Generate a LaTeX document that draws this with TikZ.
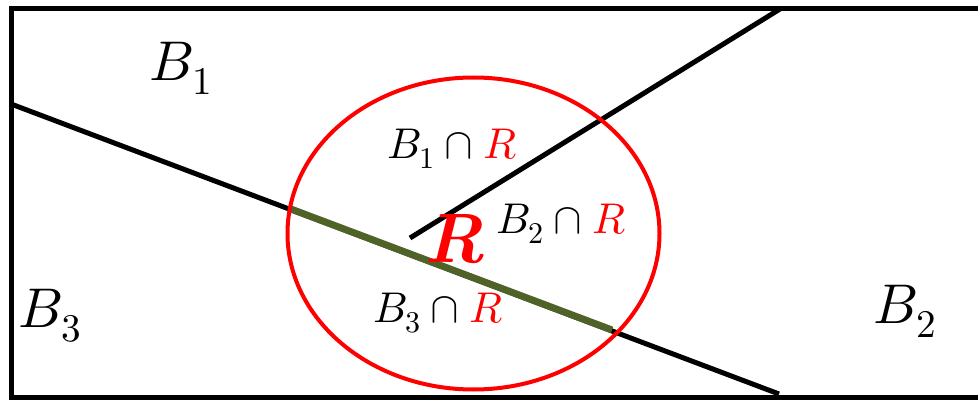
\documentclass[tikz,border=0pt]{standalone}
\usepackage{unicode-math}
\setmathfont{Latin Modern Math}
\begin{document}
\begin{tikzpicture}[x=1pt,y=-1pt,
  edge/.style={line width=5pt,black},
  big/.style={inner sep=0pt,font=\fontsize{56}{60}\selectfont},
  small/.style={inner sep=0pt,font=\fontsize{43}{47}\selectfont}]
\useasboundingbox (0,0) rectangle (978,401);
\clip (0,0) rectangle (978,401);
% frame
\draw[edge] (1100,9) -- (11,9) -- (11,397) -- (1100,397);
% boundary lines
\coordinate (ua) at (410,238);
\coordinate (ub) at (780,9);
\coordinate (la) at (11,104);
\coordinate (lb) at (779,394);
\coordinate (ga) at (289,208.3);
\coordinate (gb) at (612,330);
\draw[edge] (ua) -- (ub);
\draw[edge] (la) -- (lb);
\draw[line width=7pt,color={rgb,255:red,79;green,98;blue,40}] (ga) -- (gb);
% region R
\draw[line width=4pt,red] (473.5,233.5) ellipse [x radius=186, y radius=156];
% labels
\node[big] (b1) at (181,68) {$B_1$};
\node[big] (b3) at (50,316) {$B_3$};
\node[big] (b2) at (905,311) {$B_2$};
\node[small] (b1r) at (452,149) {$B_1\cap\textcolor{red}{R}$};
\node[small] (b2r) at (561,224) {$B_2\cap\textcolor{red}{R}$};
\node[small] (b3r) at (438,313) {$B_3\cap\textcolor{red}{R}$};
\node[inner sep=0pt,font=\fontsize{70}{74}\selectfont\bfseries\itshape,red] (r) at (455,239) {R};
\end{tikzpicture}
\end{document}
